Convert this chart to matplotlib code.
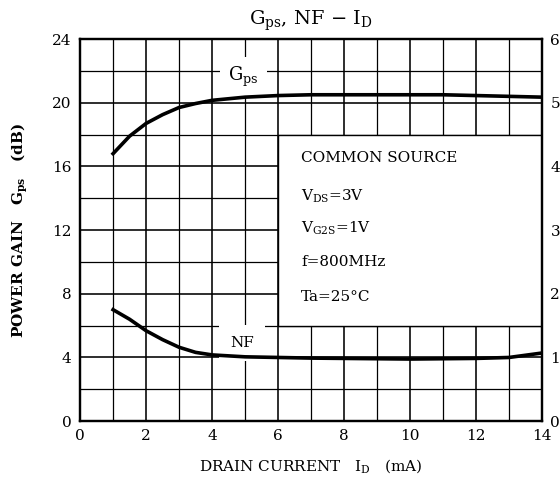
import matplotlib
matplotlib.use("Agg")
import matplotlib.pyplot as plt
from matplotlib.patches import Rectangle

# Data
# ---------------------------------
id_ma = [1, 1.5, 2, 2.5, 3, 3.5, 4, 5, 6, 7, 8, 9, 10, 11, 12, 13, 14]
gps_db = [16.8, 17.9, 18.7, 19.25, 19.7, 19.95, 20.15, 20.35, 20.45, 20.5,
          20.5, 20.5, 20.5, 20.5, 20.45, 20.4, 20.35]
nf_db = [1.75, 1.6, 1.42, 1.28, 1.16, 1.08, 1.04, 1.01, 1.0, 0.99,
         0.985, 0.98, 0.975, 0.98, 0.985, 1.0, 1.07]

x_ticks = [0, 2, 4, 6, 8, 10, 12, 14]
left_ticks = [0, 4, 8, 12, 16, 20, 24]
right_ticks = [0, 1, 2, 3, 4, 5, 6]
conditions = ["COMMON SOURCE", r"$\mathrm{V_{DS}}$=3V", r"$\mathrm{V_{G2S}}$=1V",
              "f=800MHz", "Ta=25°C"]

plt.rcParams['font.family'] = ['DejaVu Serif']
plt.rcParams['mathtext.fontset'] = 'dejavuserif'

fig = plt.figure(figsize=(5.6, 4.88), dpi=100)
ax = fig.add_axes([0.143, 0.137, 0.825, 0.783])

# grid every 1 mA / 2 dB
for xv in range(1, 14):
    lw = 1.15 if xv % 2 == 0 else 0.9
    ax.axvline(xv, color='black', lw=lw, zorder=1)
for yv in range(2, 24, 2):
    lw = 1.15 if yv % 4 == 0 else 0.9
    ax.axhline(yv, color='black', lw=lw, zorder=1)

# white box with the test conditions
ax.add_patch(Rectangle((6, 6), 8, 12, facecolor='white', edgecolor='black',
                       lw=1.0, zorder=2))
cond_y = [16.5, 14.1, 12.1, 10.0, 7.8]
for txt, yy in zip(conditions, cond_y):
    ax.text(6.7, yy, txt, fontsize=11, va='center', ha='left', zorder=3)

# curves (NF on the right axis, scaled x4 onto the left axis)
ax.plot(id_ma, gps_db, color='black', lw=2.6, zorder=4)
ax.plot(id_ma, [v * 4 for v in nf_db], color='black', lw=2.6, zorder=4)

ax.text(4.95, 21.6, r"$\mathrm{G_{ps}}$", fontsize=13, ha='center', va='center',
        zorder=3, bbox=dict(facecolor='white', edgecolor='none', pad=6))
ax.text(4.9, 4.9, "NF", fontsize=11, ha='center', va='center', zorder=3,
        bbox=dict(facecolor='white', edgecolor='none', pad=8))

ax.set_xlim(0, 14)
ax.set_ylim(0, 24)
ax.set_xticks(x_ticks)
ax.set_yticks(left_ticks)
ax.tick_params(length=0, labelsize=11, pad=6)
for s in ax.spines.values():
    s.set_linewidth(1.6)

ax2 = ax.twinx()
ax2.set_ylim(0, 6)
ax2.set_yticks(right_ticks)
ax2.tick_params(length=0, labelsize=11, pad=6)
for s in ax2.spines.values():
    s.set_linewidth(1.6)

ax.set_xlabel(r"DRAIN CURRENT   $\mathrm{I_D}$   (mA)", fontsize=11, labelpad=10)
ax.set_ylabel(r"POWER GAIN   $\mathbf{G_{ps}}$   (dB)", fontsize=11,
              fontweight='bold', labelpad=16)
ax.set_title(r"$\mathrm{G_{ps}}$, NF $-$ $\mathrm{I_D}$", fontsize=14, pad=10)

fig.savefig("out.png", dpi=100)
